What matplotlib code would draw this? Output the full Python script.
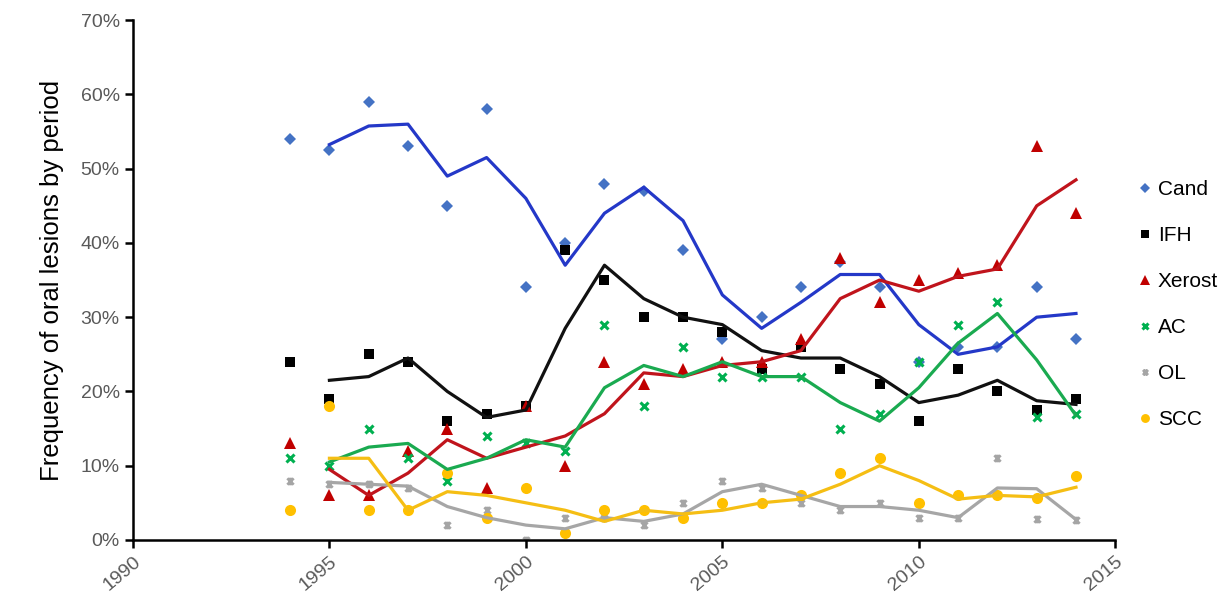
import numpy as np
import pandas as pd
import matplotlib
matplotlib.use("Agg")
import matplotlib.pyplot as plt
from matplotlib.path import Path
from matplotlib.ticker import PercentFormatter

plt.rcParams['font.family'] = ['Liberation Sans', 'DejaVu Sans']

years = list(range(1994, 2015))

# share of lesions (%) per period
cand = [54, 52.5, 59, 53, 45, 58, 34, 40, 48, 47, 39, 27, 30, 34, 37.5, 34, 24, 26, 26, 34, 27]
ifh = [24, 19, 25, 24, 16, 17, 18, 39, 35, 30, 30, 28, 23, 26, 23, 21, 16, 23, 20, 17.5, 19]
xerost = [13, 6, 6, 12, 15, 7, 18, 10, 24, 21, 23, 24, 24, 27, 38, 32, 35, 36, 37, 53, 44]
ac = [11, 10, 15, 11, 8, 14, 13, 12, 29, 18, 26, 22, 22, 22, 15, 17, 24, 29, 32, 16.5, 17]
ol = [8, 7.5, 7.5, 7, 2, 4, 0, 3, 3, 2, 5, 8, 7, 5, 4, 5, 3, 3, 11, 2.8, 2.7]
scc = [4, 18, 4, 4, 9, 3, 7, 1, 4, 4, 3, 5, 5, 6, 9, 11, 5, 6, 6, 5.6, 8.6]

labels = ['Cand', 'IFH', 'Xerost', 'AC', 'OL', 'SCC']

# excel-like star marker: x with a vertical bar
star = Path([(-1, -1), (1, 1), (-1, 1), (1, -1), (0, -1.2), (0, 1.2)],
            [Path.MOVETO, Path.LINETO, Path.MOVETO, Path.LINETO, Path.MOVETO, Path.LINETO])

styles = {
    'Cand': dict(marker='D', ms=6.5, mc='#4472C4', lc='#2438C8', mew=0),
    'IFH': dict(marker='s', ms=7.5, mc='#000000', lc='#111111', mew=0),
    'Xerost': dict(marker='^', ms=8.5, mc='#C00000', lc='#C0141C', mew=0),
    'AC': dict(marker='x', ms=5.5, mc='#00B050', lc='#1AAA50', mew=2.2),
    'OL': dict(marker=star, ms=5.5, mc='#A5A5A5', lc='#A6A6A6', mew=2),
    'SCC': dict(marker='o', ms=8, mc='#FFC000', lc='#F5BE14', mew=0),
}

df = pd.DataFrame({'Cand': cand, 'IFH': ifh, 'Xerost': xerost,
                   'AC': ac, 'OL': ol, 'SCC': scc}, index=years)

fig = plt.figure(figsize=(12.31, 5.94), dpi=100)
ax = fig.add_axes([0.108, 0.091, 0.798, 0.875])

handles = []
for name in labels:
    st = styles[name]
    h, = ax.plot(df.index, df[name], linestyle='none', marker=st['marker'],
                 ms=st['ms'], color=st['mc'], mec=st['mc'], mew=st['mew'],
                 zorder=2, label=name)
    handles.append(h)
    # 2-period moving average trend line
    trend = df[name].rolling(2).mean()
    ax.plot(df.index, trend, color=st['lc'], lw=2.3, zorder=3)

ax.set_xlim(1990, 2015)
ax.set_ylim(0, 70)
ax.set_xticks(range(1990, 2016, 5))
ax.set_yticks(range(0, 71, 10))
ax.yaxis.set_major_formatter(PercentFormatter(decimals=0))

for s in ['top', 'right']:
    ax.spines[s].set_visible(False)
for s in ['left', 'bottom']:
    ax.spines[s].set_linewidth(1.8)
    ax.spines[s].set_color('black')

ax.tick_params(axis='both', direction='out', length=6, width=1.8,
               labelsize=14, labelcolor='#595959')
plt.setp(ax.get_xticklabels(), rotation=40, ha='right', va='top',
         rotation_mode='anchor')

ax.set_ylabel('Frequency of oral lesions by period', fontsize=18.5, labelpad=12)

fig.legend(handles=handles, loc='center left', bbox_to_anchor=(0.91, 0.487),
           frameon=False, fontsize=15, handlelength=0.6, handletextpad=0.3,
           labelspacing=1.3, markerscale=0.8)

fig.savefig('out.png', dpi=100)
